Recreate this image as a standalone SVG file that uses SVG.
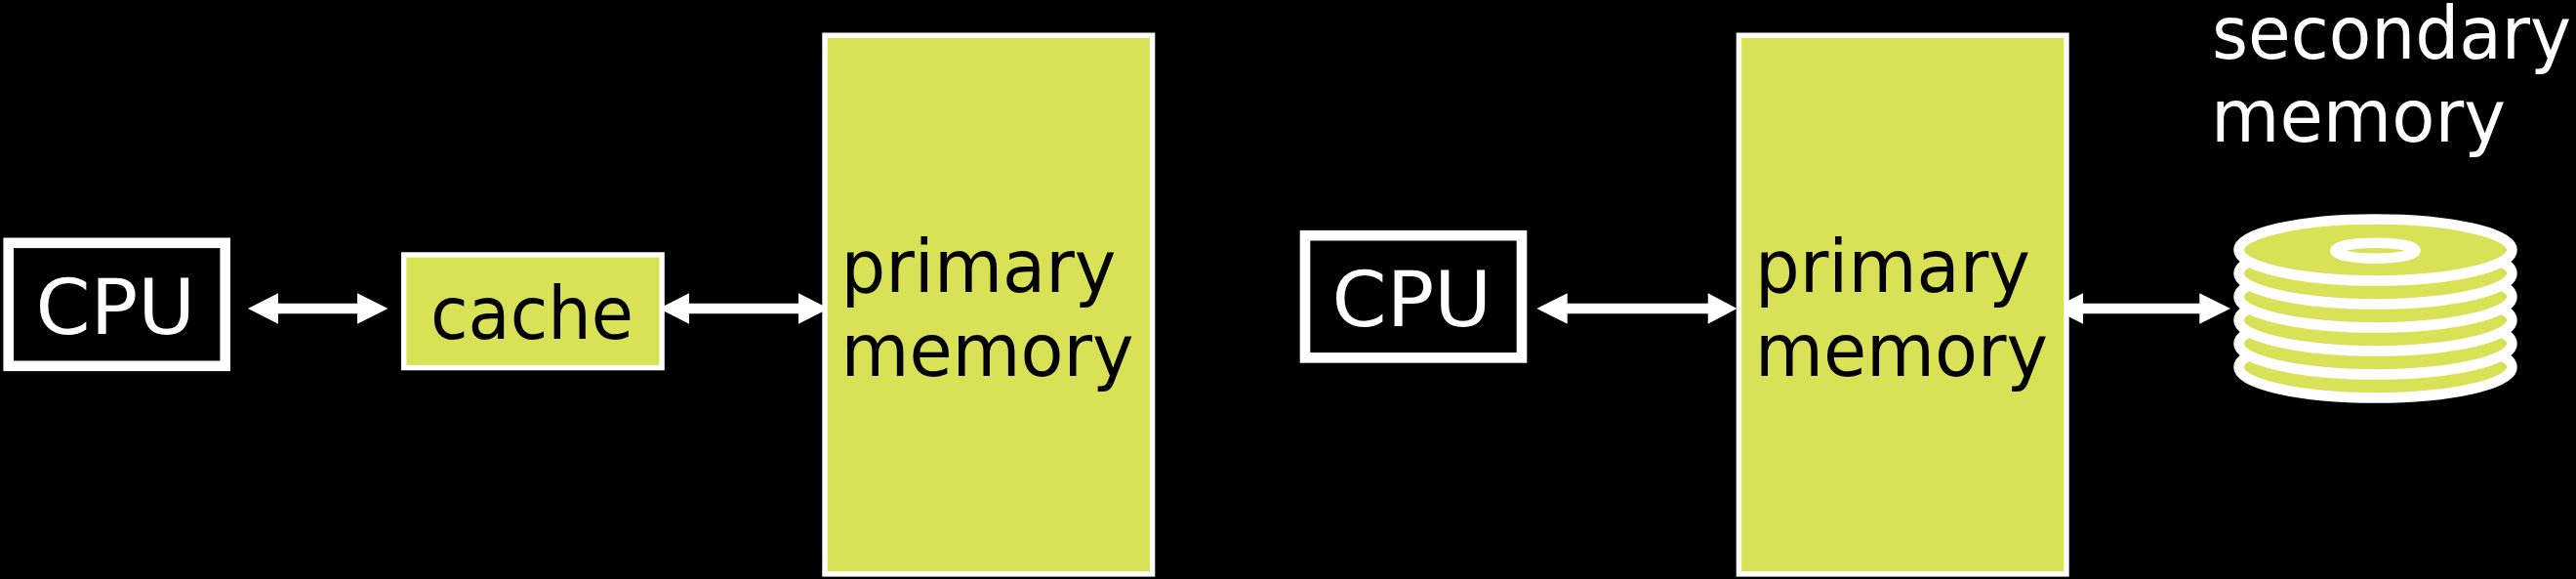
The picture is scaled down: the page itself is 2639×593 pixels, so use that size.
<svg xmlns="http://www.w3.org/2000/svg" width="2639" height="593" viewBox="0 0 2639 593">
<style>
text{font-family:"DejaVu Sans","Liberation Sans",sans-serif;font-size:74px}
text.c{font-size:79px}
.b{fill:#000}.w{fill:#fff}
.box{fill:#d9e157;stroke:#fff;stroke-width:5.4}
.cpu{fill:#000;stroke:#fff;stroke-width:10.6}
.disc{fill:#d9e157;stroke:#fff;stroke-width:10.6}
.shaft{stroke:#fff;stroke-width:10.7;fill:none}
.head{fill:#fff}
</style>
<rect width="2639" height="593" fill="#000"/>
<g id="connectors">
<path class="shaft" d="M270 316H380"/><path class="head" d="M254 316L285 300.3V331.7ZM397.5 316L366 300.3V331.7Z"/>
<path class="shaft" d="M690 316H835"/><path class="head" d="M675 316L706 300.3V331.7ZM849 316L818 300.3V331.7Z"/>
<path class="shaft" d="M1590 316H1765"/><path class="head" d="M1574.3 316L1605.7 300.3V331.7ZM1779.5 316L1749.7 300.3V331.7Z"/>
<path class="shaft" d="M2120 316H2270"/><path class="head" d="M2285 316L2253.3 300.3V331.7ZM2103 316L2134 300.3V331.7Z"/>
</g>
<g id="cpu-left"><rect class="cpu" x="8.7" y="248.8" width="222" height="126"/><text class="w c" x="36.6" y="341.7" textLength="163.5" lengthAdjust="spacingAndGlyphs">CPU</text></g>
<g id="cache"><rect class="box" x="413.7" y="261" width="264.4" height="115.6"/><text class="b" x="441" y="346.7" textLength="208" lengthAdjust="spacingAndGlyphs">cache</text></g>
<g id="primary-left"><rect class="box" x="845" y="36.2" width="335.6" height="551.7"/><text class="b" x="861.5" y="299.3" textLength="282" lengthAdjust="spacingAndGlyphs">primary</text><text class="b" x="861.5" y="385" textLength="300" lengthAdjust="spacingAndGlyphs">memory</text></g>
<g id="cpu-right"><rect class="cpu" x="1337" y="241.2" width="222" height="125.2"/><text class="w c" x="1364.6" y="334.3" textLength="163.5" lengthAdjust="spacingAndGlyphs">CPU</text></g>
<g id="primary-right"><rect class="box" x="1781.4" y="36.2" width="335.6" height="551.7"/><text class="b" x="1798" y="299.3" textLength="282" lengthAdjust="spacingAndGlyphs">primary</text><text class="b" x="1798" y="385" textLength="300" lengthAdjust="spacingAndGlyphs">memory</text></g>
<g id="secondary-memory">
<ellipse class="disc" cx="2433.5" cy="376" rx="140" ry="31.5"/>
<ellipse class="disc" cx="2433.5" cy="352" rx="140" ry="31.5"/>
<ellipse class="disc" cx="2433.5" cy="328" rx="140" ry="31.5"/>
<ellipse class="disc" cx="2433.5" cy="304" rx="140" ry="31.5"/>
<ellipse class="disc" cx="2433.5" cy="280" rx="140" ry="31.5"/>
<ellipse class="disc" cx="2433.5" cy="256" rx="140" ry="31.5"/>
<ellipse class="disc" cx="2433.5" cy="256.7" rx="41" ry="8"/>
<text class="w" x="2266" y="60" textLength="368" lengthAdjust="spacingAndGlyphs">secondary</text>
<text class="w" x="2265" y="145" textLength="302" lengthAdjust="spacingAndGlyphs">memory</text>
</g>
</svg>
